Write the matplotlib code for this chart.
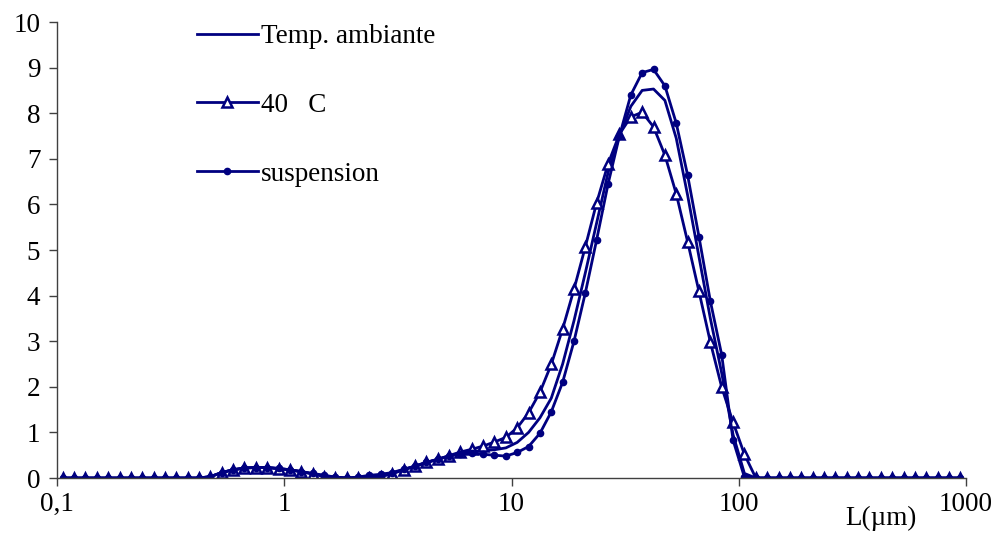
import matplotlib
matplotlib.use("Agg")
import matplotlib.pyplot as plt

plt.rcParams['font.family'] = ['Liberation Serif', 'DejaVu Serif']

# tailles de particules (milieux des classes, en µm)
L = [0.1059, 0.1189, 0.1334, 0.1496, 0.1679, 0.1884, 0.2113, 0.2371, 0.2661, 0.2985,
     0.3350, 0.3758, 0.4217, 0.4732, 0.5309, 0.5957, 0.6683, 0.7499, 0.8414, 0.9441,
     1.059, 1.189, 1.334, 1.496, 1.679, 1.884, 2.113, 2.371, 2.661, 2.985,
     3.350, 3.758, 4.217, 4.732, 5.309, 5.957, 6.683, 7.499, 8.414, 9.441,
     10.59, 11.89, 13.34, 14.96, 16.79, 18.84, 21.13, 23.71, 26.61, 29.85,
     33.50, 37.58, 42.17, 47.32, 53.09, 59.57, 66.83, 74.99, 84.14, 94.41,
     105.9, 118.9, 133.4, 149.6, 167.9, 188.4, 211.3, 237.1, 266.1, 298.5,
     335.0, 375.8, 421.7, 473.2, 530.9, 595.7, 668.3, 749.9, 841.4, 944.1]

temp_ambiante = [0, 0, 0, 0, 0, 0, 0, 0, 0, 0,
                 0, 0, 0, 0.03, 0.12, 0.18, 0.22, 0.23, 0.23, 0.21,
                 0.18, 0.14, 0.09, 0.05, 0.02, 0.0, 0.01, 0.04, 0.07, 0.11,
                 0.18, 0.26, 0.34, 0.41, 0.48, 0.54, 0.58, 0.60, 0.62, 0.66,
                 0.78, 1.00, 1.32, 1.75, 2.50, 3.45, 4.50, 5.60, 6.70, 7.50,
                 8.15, 8.50, 8.53, 8.28, 7.45, 6.20, 4.85, 3.50, 2.30, 0.95,
                 0.10, 0, 0, 0, 0, 0, 0, 0, 0, 0,
                 0, 0, 0, 0, 0, 0, 0, 0, 0, 0]

t40 = [0, 0, 0, 0, 0, 0, 0, 0, 0, 0,
       0, 0, 0, 0.03, 0.12, 0.18, 0.22, 0.23, 0.23, 0.20,
       0.18, 0.14, 0.09, 0.03, 0.0, 0.0, 0.0, 0.0, 0.03, 0.09,
       0.18, 0.26, 0.34, 0.41, 0.49, 0.57, 0.63, 0.70, 0.79, 0.89,
       1.10, 1.43, 1.88, 2.49, 3.27, 4.14, 5.07, 6.04, 6.89, 7.54,
       7.92, 8.02, 7.70, 7.08, 6.23, 5.18, 4.09, 2.98, 1.99, 1.22,
       0.52, 0, 0, 0, 0, 0, 0, 0, 0, 0,
       0, 0, 0, 0, 0, 0, 0, 0, 0, 0]

suspension = [0, 0, 0, 0, 0, 0, 0, 0, 0, 0,
              0, 0, 0, 0.03, 0.12, 0.18, 0.22, 0.23, 0.23, 0.21,
              0.18, 0.14, 0.10, 0.06, 0.02, 0.0, 0.02, 0.06, 0.08, 0.12,
              0.19, 0.26, 0.34, 0.41, 0.48, 0.53, 0.54, 0.52, 0.50, 0.48,
              0.56, 0.69, 0.98, 1.45, 2.10, 3.00, 4.06, 5.23, 6.45, 7.50,
              8.40, 8.89, 8.96, 8.60, 7.78, 6.64, 5.29, 3.88, 2.70, 0.83,
              0.02, 0, 0, 0, 0, 0, 0, 0, 0, 0,
              0, 0, 0, 0, 0, 0, 0, 0, 0, 0]

xticks = [0.1, 1, 10, 100, 1000]
xticklabels = ['0,1', '1', '10', '100', '1000']

bleu = '#000080'
fs = 19.5

fig = plt.figure(figsize=(9.93, 5.4), dpi=100)
ax = fig.add_axes([57/993, 62/540, 909/993, 456/540])

ax.plot(L, temp_ambiante, color=bleu, lw=2, label='Temp. ambiante')
ax.plot(L, t40, color=bleu, lw=2, marker='^', ms=6.5, mfc='white', mec=bleu, mew=1.8,
        label='40   C')
ax.plot(L, suspension, color=bleu, lw=2, marker='o', ms=4.5, mfc=bleu, mec=bleu,
        label='suspension')

ax.set_xscale('log')
ax.set_xlim(0.1, 1000)
ax.set_ylim(0, 10)
ax.set_xticks(xticks)
ax.set_xticklabels(xticklabels)
ax.minorticks_off()
ax.set_yticks(range(0, 11))

for s in ['top', 'right']:
    ax.spines[s].set_visible(False)
for s in ['left', 'bottom']:
    ax.spines[s].set_color('#404040')
    ax.spines[s].set_linewidth(1)
ax.tick_params(axis='both', labelsize=fs, length=6, width=1, color='#404040', direction='out')
ax.tick_params(axis='y', pad=6)
ax.tick_params(axis='x', pad=4)

fig.text(881/993, 1 - 518/540, 'L(µm)', fontsize=fs, ha='center', va='center')

ax.legend(loc='upper left', bbox_to_anchor=(197/993, 1 - 24/540), bbox_transform=fig.transFigure,
          frameon=False, fontsize=fs, handlelength=2.25, handletextpad=0.1,
          borderpad=0, borderaxespad=0, labelspacing=1.62)

fig.savefig('out.png', dpi=100)
